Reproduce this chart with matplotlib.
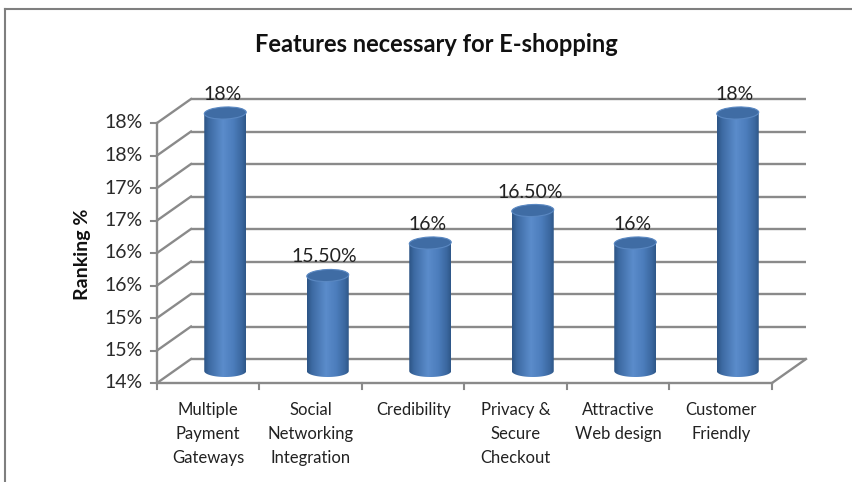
import numpy as np
import matplotlib.pyplot as plt
from matplotlib.patches import PathPatch, Ellipse
from matplotlib.path import Path
from matplotlib.colors import LinearSegmentedColormap

plt.rcParams['font.family'] = ['Lato', 'DejaVu Sans']

categories = ['Multiple\nPayment\nGateways', 'Social\nNetworking\nIntegration', 'Credibility',
              'Privacy &\nSecure\nCheckout', 'Attractive\nWeb design', 'Customer\nFriendly']
values = [18, 15.5, 16, 16.5, 16, 18]
value_labels = ['18%', '15.50%', '16%', '16.50%', '16%', '18%']
yticks = [14, 14.5, 15, 15.5, 16, 16.5, 17, 17.5, 18]
ytick_labels = ['14%', '15%', '15%', '16%', '16%', '17%', '17%', '18%', '18%']

fig = plt.figure(figsize=(8.53, 4.82), dpi=100)
ax = fig.add_axes([0, 0, 1, 1])
ax.axis('off')

# map data -> pixels: x 0..6 -> 157..772 px, y 14..18 -> 383..123 px (from top)
px_x, px_y = 102.5, 65.0
xlim = (-157 / px_x, (853 - 157) / px_x)
ylim = (14 - (482 - 383) / px_y, 14 + 383 / px_y)

dx, dy = 34 / px_x, 24 / px_y  # depth offset of the back wall
grid_c = '#8a8a8a'
n = len(categories)
ymin = 14

# back wall gridlines + slant lines from the front axis
for y in yticks:
    ax.plot([dx, n + dx], [y + dy, y + dy], color=grid_c, lw=1.7, solid_capstyle='butt')
    ax.plot([0, dx], [y, y + dy], color=grid_c, lw=1.7)
# floor
ax.plot([0, n], [ymin, ymin], color=grid_c, lw=1.7)
ax.plot([n, n + dx], [ymin, ymin + dy], color=grid_c, lw=1.7)
# front value axis
ax.plot([0, 0], [ymin, yticks[-1]], color=grid_c, lw=1.7)
for y, lab in zip(yticks, ytick_labels):
    ax.plot([-6 / px_x, 0], [y, y], color=grid_c, lw=1.5)
    ax.text(-14 / px_x, y, lab, ha='right', va='center', fontsize=14, color='#2a2a2a')
for i in range(n + 1):
    ax.plot([i, i], [ymin, ymin - 6 / px_y], color=grid_c, lw=1.5)
for i, cat in enumerate(categories):
    ax.text(i + 0.5, ymin - 19 / px_y, cat, ha='center', va='top', fontsize=12,
            linespacing=1.62, color='#222222')

# cylinders
cmap = LinearSegmentedColormap.from_list('cyl', [
    (0.0, '#2c5485'), (0.12, '#3d6aa3'), (0.45, '#5b8ccb'),
    (0.7, '#4c7dbc'), (0.9, '#3b68a0'), (1.0, '#2e5788')])
grad = np.linspace(0, 1, 200).reshape(1, -1)
w = 21 / px_x
e = 6 / px_y
t = np.linspace(0, np.pi, 60)
for i, (v, lab) in enumerate(zip(values, value_labels)):
    cx = i + 0.5 + dx / 2
    y0 = ymin + dy / 2
    y1 = v + dy / 2 - 2 / px_y
    pts = [(cx - w, y1), (cx - w, y0)]
    pts += list(zip(cx - w * np.cos(t), y0 - e * np.sin(t)))
    pts += [(cx + w, y0), (cx + w, y1), (cx - w, y1)]
    body = PathPatch(Path(pts), facecolor='none', edgecolor='none')
    ax.add_patch(body)
    im = ax.imshow(grad, cmap=cmap, aspect='auto', interpolation='bilinear',
                   extent=[cx - w, cx + w, y0 - e, y1 + e], zorder=3)
    im.set_clip_path(body)
    top = Ellipse((cx, y1), 2 * w, 2 * e, angle=4, facecolor='#3f6ca4', edgecolor='#5a88c2',
                  lw=0.8, zorder=4)
    ax.add_patch(top)
    ax.text(cx - 3 / px_x, y1 + e + 4 / px_y, lab, ha='center', va='bottom',
            fontsize=14, color='#222222', zorder=5)

ax.set_xlim(*xlim)
ax.set_ylim(*ylim)

# chart border (clipped by the screenshot)
fig.add_artist(plt.Line2D([5 / 853, 5 / 853], [0, 1 - 9 / 482], color='#7f7f7f', lw=1.5))
fig.add_artist(plt.Line2D([5 / 853, 1], [1 - 9 / 482, 1 - 9 / 482], color='#7f7f7f', lw=1.5))

fig.text(436 / 853, 1 - 45 / 482, 'Features necessary for E-shopping', ha='center', va='center',
         fontsize=17, fontweight='bold', color='#111111')
fig.text(83 / 853, 1 - 254 / 482, 'Ranking %', ha='center', va='center', rotation=90,
         fontsize=14, fontweight='bold', color='#111111')

fig.savefig('out.png', dpi=100)
